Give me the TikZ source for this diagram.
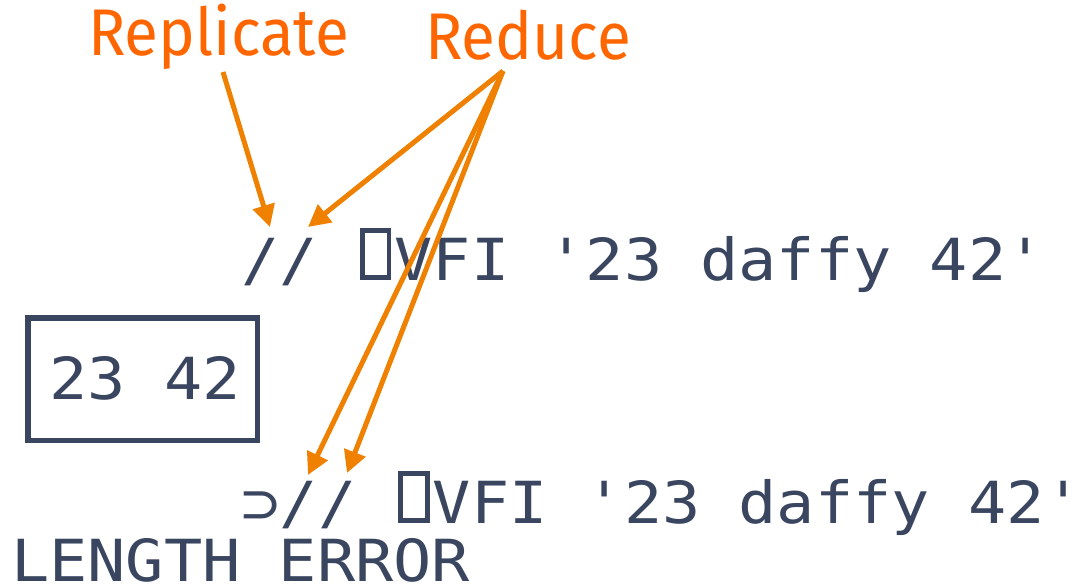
\documentclass[tikz,border=0pt]{standalone}
\usepackage{fontspec}
\usetikzlibrary{arrows.meta}
\newfontfamily\aplfont[FakeStretch=1.095,Ligatures=ResetAll]{DejaVu Sans Mono}
\newfontfamily\labelfont[FakeStretch=0.94]{Fira Sans}
\definecolor{ink}{RGB}{58,70,96}
\definecolor{tagorange}{RGB}{255,102,0}
\definecolor{pointerorange}{RGB}{240,128,0}
% APL quad: a tall hollow box filling one monospace cell
\newcommand\aplquad{\makebox[0.659em][c]{\vbox{\hrule height .085em
  \hbox{\vrule width .085em height .73em depth 0pt\kern .38em\vrule width .085em}%
  \hrule height .085em}}}

\begin{document}
\begin{tikzpicture}[x=1pt,y=-1pt,
  codeline/.style={anchor=base west, inner sep=0pt, text=ink,
    font=\aplfont\fontsize{58}{58}\selectfont},
  taglabel/.style={anchor=base west, inner sep=0pt, text=tagorange,
    font=\labelfont\fontsize{66}{66}\selectfont},
  pointer/.style={draw=pointerorange, line width=5pt,
    -{Triangle[length=22pt,width=22pt]}}]
  \useasboundingbox (0,0) rectangle (1074,588);

  % session lines
  \node[codeline] (expr)   at (241.5,280) {// \aplquad VFI '23 daffy 42'};
  \node[draw=ink, line width=5.5pt, minimum width=229.5pt,
        minimum height=122.5pt, inner sep=0pt] (resbox) at (142.75,379.25) {};
  \node[codeline] (result) at (49.4,399) {23 42};
  \node[codeline] (expr2)  at (241.5,523) {⊃// \aplquad VFI '23 daffy 42'};
  \node[codeline] (err)    at (11,581)    {LENGTH ERROR};

  % labels
  \node[taglabel] (rep) at (88,56) {Replicate};
  \node[taglabel] (red) at (425,60) {Reduce};

  % arrow ends
  \coordinate (repfoot) at (223,72);
  \coordinate (redfoot) at (503,71);
  \coordinate (slashA) at (270,227);
  \coordinate (slashB) at (308,227);
  \coordinate (slashC) at (308,475);
  \coordinate (slashD) at (347,473);

  \draw[pointer] (repfoot) -- (slashA);
  \draw[pointer] (redfoot) -- (slashB);
  \draw[pointer] (redfoot) -- (slashC);
  \draw[pointer] (redfoot) -- (slashD);
\end{tikzpicture}
\end{document}
